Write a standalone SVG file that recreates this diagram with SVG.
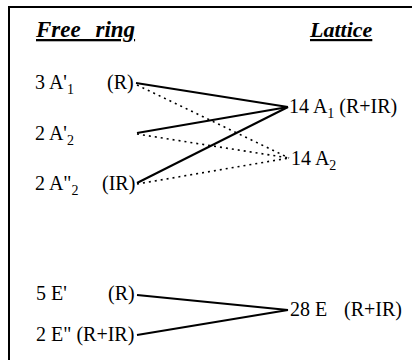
<svg xmlns="http://www.w3.org/2000/svg" width="412" height="360" viewBox="0 0 412 360">
<style>
text{font-family:"Liberation Serif","Times New Roman",serif;font-size:20px;fill:#000}
.hd{font-size:22px;font-weight:bold;font-style:italic;text-decoration:underline}
.sub{font-size:14px}
.solid{stroke:#000;stroke-width:2;fill:none}
.dot{stroke:#000;stroke-width:1.6;fill:none;stroke-dasharray:2 4}
</style>
<rect width="412" height="360" fill="#fff"/>
<path d="M9 360V7H412" stroke="#000" stroke-width="2" fill="none"/>
<g id="headers">
<text class="hd" x="36" y="37" word-spacing="9" style="font-size:23px">Free ring</text>
<text class="hd" x="310" y="37">Lattice</text>
</g>
<g id="connectors">
<line class="solid" x1="136" y1="83" x2="288" y2="107"/>
<line class="solid" x1="137" y1="133" x2="288" y2="107"/>
<line class="solid" x1="137" y1="183" x2="288" y2="107"/>
<line class="dot" x1="137" y1="85" x2="289" y2="158"/>
<line class="dot" x1="137" y1="134" x2="289" y2="158"/>
<line class="dot" x1="137" y1="184" x2="289" y2="158"/>
<line class="solid" x1="137" y1="295" x2="288" y2="310"/>
<line class="solid" x1="137" y1="335" x2="288" y2="310"/>
</g>
<g id="n-3A1"><text x="35" y="89">3 A'<tspan class="sub" dy="5">1</tspan><tspan dy="-5" x="107">(R)</tspan></text></g>
<g id="n-2A2p"><text x="35" y="140">2 A'<tspan class="sub" dy="5">2</tspan></text></g>
<g id="n-2A2pp"><text x="35" y="190">2 A"<tspan class="sub" dy="5">2</tspan><tspan dy="-5" x="102">(IR)</tspan></text></g>
<g id="n-14A1"><text x="289" y="113">14 A<tspan class="sub" dy="5">1</tspan><tspan dy="-5"> (R+IR)</tspan></text></g>
<g id="n-14A2"><text x="291" y="165">14 A<tspan class="sub" dy="5">2</tspan></text></g>
<g id="n-5E"><text x="36" y="300">5 E'<tspan x="108">(R)</tspan></text></g>
<g id="n-2E"><text x="36" y="341">2 E" (R+IR)</text></g>
<g id="n-28E"><text x="290" y="316">28 E<tspan x="344">(R+IR)</tspan></text></g>
</svg>
